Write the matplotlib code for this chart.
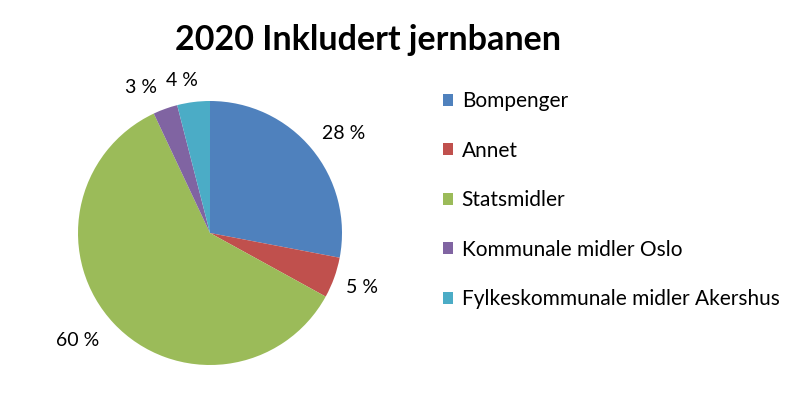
import numpy as np
import matplotlib.pyplot as plt

# data
labels = ["Bompenger", "Annet", "Statsmidler", "Kommunale midler Oslo",
          "Fylkeskommunale midler Akershus"]
shares = [28, 5, 60, 3, 4]
colors = ["#4F81BD", "#C0504D", "#9BBB59", "#8064A2", "#4BACC6"]
title = "2020 Inkludert jernbanen"

# label placement per slice: distance (in radii) and angle nudge (deg)
label_dist = [1.267, 1.22, 1.297, 1.217, 1.178]
label_shift = [-2.9, 0.0, -4.1, 5.6, 3.2]

plt.rcParams['font.family'] = ['Lato', 'DejaVu Sans']

W, H = 804, 417
fig = plt.figure(figsize=(W / 100, H / 100), dpi=100)

# pie centre (210, 233) px, radius 132 px, axes limits +-1.5
lim = 1.5
R = 132
side = 2 * lim * R
cx, cy = 210, 233
ax = fig.add_axes([(cx - side / 2) / W, 1 - (cy + side / 2) / H, side / W, side / H])

wedges, texts, autotexts = ax.pie(
    shares, colors=colors, startangle=90, counterclock=False,
    autopct=lambda p: f"{round(p)} %", pctdistance=1.25,
    wedgeprops=dict(linewidth=0),
    textprops=dict(fontsize=14, color="black"))

# move labels out like excel's best fit
for w, t, d, s in zip(wedges, autotexts, label_dist, label_shift):
    a = np.deg2rad((w.theta1 + w.theta2) / 2 + s)
    t.set_position((d * np.cos(a), d * np.sin(a)))

ax.set_xlim(-lim, lim)
ax.set_ylim(-lim, lim)
ax.set_aspect("equal")
ax.axis("off")

fig.text(368 / W, 1 - 40 / H, title, ha="center", va="center",
         fontsize=24.5, fontweight="bold")

fig.legend(wedges, labels, loc="upper left",
           bbox_to_anchor=(443 / W, 1 - 91 / H), frameon=False,
           fontsize=15, handlelength=0.5, handleheight=0.5,
           handletextpad=0.4, labelspacing=1.42, borderpad=0,
           borderaxespad=0)

fig.savefig("out.png", dpi=100)
